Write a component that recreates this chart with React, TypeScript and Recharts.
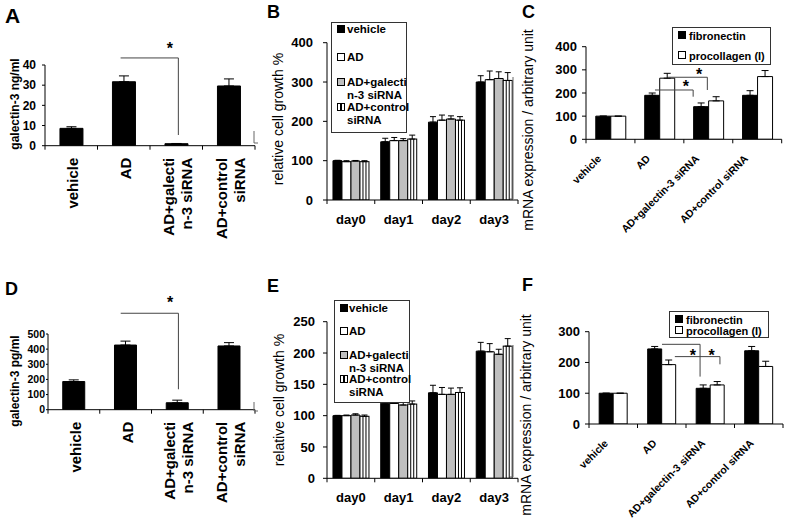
import React from 'react';
import { BarChart, Bar, XAxis, YAxis, ErrorBar, ReferenceLine, ReferenceDot, Legend } from 'recharts';

const FONT = '"Liberation Sans", Arial, Helvetica, sans-serif';

// ---------- categories ----------
const groupsAD = ['vehicle', 'AD', 'AD+galectin-3 siRNA', 'AD+control siRNA'];
const groupLinesAD = [['vehicle'], ['AD'], ['AD+galecti', 'n-3 siRNA'], ['AD+control', 'siRNA']];
const days = ['day0', 'day1', 'day2', 'day3'];
const growthSeries = ['vehicle', 'AD', 'AD+galectin-3 siRNA', 'AD+control siRNA'];
const growthLegendLines = [['vehicle'], ['AD'], ['AD+galecti', 'n-3 siRNA'], ['AD+control', 'siRNA']];
const mrnaSeries = ['fibronectin', 'procollagen (I)'];

// ---------- panel A ----------
const galectinNg = [8.6, 31.7, 1.0, 29.6];
const galectinNgErr = [0.8, 2.9, 0.1, 3.5];
const yTicksA = [0, 10, 20, 30, 40];
const bracketsA = [{ from: 1.44, to: 2.54, level: 43.5, drop: 5.3 }];
const starsA = [{ x: 2.38, y: 50 }];

// ---------- panel D ----------
const galectinPg = [186, 427, 46, 421];
const galectinPgErr = [11, 26, 17, 22];
const yTicksD = [0, 100, 200, 300, 400, 500];
const bracketsD = [{ from: 1.405, to: 2.52, level: 637, drop: 135 }];
const starsD = [{ x: 2.36, y: 731 }];

// ---------- panel B ----------
const growthBVehicle = [100, 148, 198, 300];
const growthBAD = [97.5, 151, 203, 306];
const growthBGal = [99, 151, 206, 309];
const growthBCtrl = [97.5, 155, 203, 304];
const growthBVehicleErr = [1, 9, 14, 16];
const growthBADErr = [2.5, 8, 13, 22];
const growthBGalErr = [1.5, 5, 8, 17];
const growthBCtrlErr = [2.5, 10, 9, 20];
const yTicksB = [0, 100, 200, 300, 400];

// ---------- panel E ----------
const growthEVehicle = [100, 120, 136.5, 203];
const growthEAD = [100, 119.5, 134, 202];
const growthEGal = [101, 117, 134, 198];
const growthECtrl = [99, 118.5, 137, 211];
const growthEVehicleErr = [0.5, 3, 12, 14];
const growthEADErr = [1, 2, 11, 13];
const growthEGalErr = [2, 5, 10, 8];
const growthECtrlErr = [2, 5, 7.5, 12];
const yTicksE = [0, 50, 100, 150, 200, 250];

// ---------- panel C ----------
const fibronectinC = [100, 190, 141, 190];
const procollagenC = [100, 264, 166, 271];
const fibronectinCErr = [0, 10, 16, 20];
const procollagenCErr = [0, 21, 18, 26];
const yTicksC = [0, 100, 200, 300, 400];
const bracketsC = [
  { from: 1.41, to: 2.19, level: 213, drop: 184 },
  { from: 1.68, to: 2.48, level: 268, drop: 213 },
];
const starsC = [{ x: 2.04, y: 242 }, { x: 2.31, y: 295 }];

// ---------- panel F ----------
const fibronectinF = [100, 244, 116, 238];
const procollagenF = [100, 193, 127, 187];
const fibronectinFErr = [0, 8, 11, 14];
const procollagenFErr = [0, 15, 11, 17];
const yTicksF = [0, 100, 200, 300];
const bracketsF = [
  { from: 1.505, to: 2.29, level: 259, drop: 154 },
  { from: 1.77, to: 2.7, level: 219, drop: 194 },
];
const starsF = [{ x: 2.14, y: 235 }, { x: 2.53, y: 235 }];

// category boundaries on the slot axis
const boundaryTicks = [0, 1, 2, 3, 4];

// ---------- helpers ----------
type Box = { left: number; top: number; width: number; height: number };
const YW = 40;
const AXH = 1;
function place(box: Box, x0: number, x1: number, yTop: number, yBot: number) {
  return {
    style: { position: 'absolute' as const, left: box.left, top: box.top },
    width: box.width,
    height: box.height,
    margin: {
      left: x0 - box.left - YW,
      right: box.left + box.width - x1,
      top: yTop - box.top,
      bottom: box.top + box.height - yBot - AXH,
    },
  };
}

const singleRows = (vals: number[], errs: number[]) =>
  groupsAD.map((g, i) => ({ group: g, slot: i + 0.5, value: vals[i], err: [0, errs[i]] }));

const multiRows = (cats: string[], vals: number[][], errs: number[][]) =>
  cats.map((c, i) => {
    const r: any = { cat: c, slot: i + 0.5 };
    vals.forEach((s, k) => {
      r['s' + k] = s[i];
      r['e' + k] = [0, errs[k][i]];
    });
    return r;
  });

const StripedBar = (p: any) => {
  const { x, y, width, height } = p;
  if (!height || height <= 0) return null;
  return (
    <g>
      <rect x={x} y={y} width={width} height={height} fill="#fff" stroke="#000" strokeWidth={1} />
      <line x1={x + width / 3} x2={x + width / 3} y1={y} y2={y + height} stroke="#000" strokeWidth={1} />
      <line x1={x + (2 * width) / 3} x2={x + (2 * width) / 3} y1={y} y2={y + height} stroke="#000" strokeWidth={1} />
    </g>
  );
};

const VerticalTick = (p: any) => {
  const { x, y, index } = p;
  const lines = groupLinesAD[index] || [];
  const n = lines.length;
  return (
    <g>
      {lines.map((t, j) => {
        const cx = x + 1.5 + (j - (n - 1) / 2) * 18;
        const ty = y + 12;
        return (
          <text key={j} x={cx} y={ty} transform={`rotate(-90 ${cx} ${ty})`} textAnchor="end"
            dominantBaseline="central" fontSize={15} fontWeight="bold" fontFamily={FONT} fill="#000">
            {t}
          </text>
        );
      })}
    </g>
  );
};

const DayTick = (p: any) => {
  const { x, y, payload } = p;
  return (
    <text x={x} y={y + 19} textAnchor="middle" dominantBaseline="central" fontSize={13}
      fontWeight="bold" fontFamily={FONT} fill="#000">
      {payload.value}
    </text>
  );
};

const makeSlantTick = (dx: number, dy: number) => (p: any) => {
  const { x, y, payload } = p;
  const tx = x + dx;
  const ty = y + dy;
  return (
    <text x={tx} y={ty} transform={`rotate(-45 ${tx} ${ty})`} textAnchor="end" fontSize={10.5}
      fontWeight="bold" fontFamily={FONT} fill="#000">
      {payload.value}
    </text>
  );
};

const starShape = (p: any) => (
  <text x={p.cx} y={p.cy + 9} textAnchor="middle" fontSize={16} fontWeight="bold" fontFamily={FONT} fill="#000">
    *
  </text>
);

// short downward tick mark at the bottom end of a vertical reference line
const TickMarkShape = (p: any) => {
  const yb = Math.max(Number(p.y1) || 0, Number(p.y2) || 0);
  return <line x1={p.x1} x2={p.x1} y1={yb} y2={yb + 4} stroke="#000" strokeWidth={1} />;
};

const xBaseline = () => [
  <ReferenceLine key="base" xAxisId="num" y={0} stroke="#000" strokeWidth={1} ifOverflow="visible" />,
  ...boundaryTicks.map((k) => (
    <ReferenceLine key={'t' + k} xAxisId="num" x={k} ifOverflow="visible" shape={TickMarkShape} />
  )),
];

const annotations = (brackets: { from: number; to: number; level: number; drop: number }[], stars: { x: number; y: number }[]) => [
  ...brackets.map((b, i) => (
    <ReferenceLine key={'h' + i} xAxisId="num" segment={[{ x: b.from, y: b.level }, { x: b.to, y: b.level }]}
      stroke="#444" strokeWidth={1} ifOverflow="visible" />
  )),
  ...brackets.map((b, i) => (
    <ReferenceLine key={'v' + i} xAxisId="num" segment={[{ x: b.to, y: b.level }, { x: b.to, y: b.drop }]}
      stroke="#444" strokeWidth={1} ifOverflow="visible" />
  )),
  ...stars.map((s, i) => (
    <ReferenceDot key={'s' + i} xAxisId="num" x={s.x} y={s.y} r={0} ifOverflow="visible" shape={starShape} />
  )),
];

// hidden numeric axis spanning the category slots (0..4), used for boundaries and brackets
const numAxis = (
  <XAxis xAxisId="num" dataKey="slot" type="number" domain={[0, 4]} allowDataOverflow hide />
);

const catAxis = (key: string, Tick: any) => (
  <XAxis xAxisId="cat" dataKey={key} height={AXH} axisLine={false} tickLine={false} tickSize={0}
    tickMargin={0} interval={0} tick={<Tick />} />
);

const yAxis = (ticks: number[], size: number, tickSize: number, tickMargin: number) => (
  <YAxis type="number" domain={[ticks[0], ticks[ticks.length - 1]]} ticks={ticks} interval={0} allowDataOverflow
    width={YW} tickSize={tickSize} tickMargin={tickMargin} axisLine={{ stroke: '#000' }} tickLine={{ stroke: '#000' }}
    tick={{ fontSize: size, fontWeight: 'bold', fill: '#000', fontFamily: FONT }} />
);

const growthFills = ['#000000', '#ffffff', '#bfbfbf', 'stripe'];
const mrnaFills = ['#000000', '#ffffff'];

const Marker = ({ fill, size }: { fill: string; size: number }) => (
  <div style={{ width: size, height: size, boxSizing: 'border-box', border: '1px solid #000',
    background: fill === 'stripe' ? 'linear-gradient(90deg,#fff 0,#fff 30%,#000 30%,#000 42%,#fff 42%,#fff 58%,#000 58%,#000 70%,#fff 70%)' : fill }} />
);

const GrowthLegend = ({ rows, markerLeft, textLeft }: { rows: number[]; markerLeft: number; textLeft: number }) => (
  <div style={{ position: 'relative', width: '100%', height: '100%', boxSizing: 'border-box', border: '1px solid #333',
    background: '#fff', fontFamily: FONT, fontWeight: 'bold', fontSize: 11.5, color: '#000' }}>
    {growthLegendLines.map((lines, i) => (
      <div key={i}>
        <div style={{ position: 'absolute', left: markerLeft, top: rows[i] - 5 }}>
          <Marker fill={growthFills[i]} size={8} />
        </div>
        <div style={{ position: 'absolute', left: textLeft, top: rows[i] - 7, lineHeight: '12.5px', whiteSpace: 'nowrap' }}
          title={growthSeries[i]}>
          {lines.map((l, j) => (<div key={j}>{l}</div>))}
        </div>
      </div>
    ))}
  </div>
);

const MrnaLegend = ({ rows, markerLeft, textLeft }: { rows: number[]; markerLeft: number; textLeft: number }) => (
  <div style={{ position: 'relative', width: '100%', height: '100%', boxSizing: 'border-box', border: '1px solid #333',
    background: '#fff', fontFamily: FONT, fontWeight: 'bold', fontSize: 11, color: '#000' }}>
    {mrnaSeries.map((name, i) => (
      <div key={i}>
        <div style={{ position: 'absolute', left: markerLeft, top: rows[i] - 5 }}>
          <Marker fill={mrnaFills[i]} size={8} />
        </div>
        <div style={{ position: 'absolute', left: textLeft, top: rows[i] - 6.5, lineHeight: '13px', whiteSpace: 'nowrap' }}>{name}</div>
      </div>
    ))}
  </div>
);

// ---------- panels ----------
function SinglePanel({ box, x0, x1, yTop, yBot, vals, errs, ticks, tickFont, tickSize, tickMargin, brackets, stars }: any) {
  const pl = place(box, x0, x1, yTop, yBot);
  return (
    <div style={pl.style}>
      <BarChart width={pl.width} height={pl.height} margin={pl.margin} data={singleRows(vals, errs)} barCategoryGap="28.5%" barGap={0}>
        {catAxis('group', VerticalTick)}
        {numAxis}
        {yAxis(ticks, tickFont, tickSize, tickMargin)}
        {xBaseline()}
        <Bar xAxisId="cat" dataKey="value" fill="#000" stroke="#000" strokeWidth={1} isAnimationActive={false}>
          <ErrorBar dataKey="err" width={5} stroke="#000" strokeWidth={1} direction="y" isAnimationActive={false} />
        </Bar>
        {annotations(brackets, stars)}
      </BarChart>
    </div>
  );
}

function GrowthPanel({ box, x0, x1, yTop, yBot, vals, errs, ticks, tickMargin, legendBox, rows, markerLeft, textLeft }: any) {
  const pl = place(box, x0, x1, yTop, yBot);
  return (
    <div style={pl.style}>
      <BarChart width={pl.width} height={pl.height} margin={pl.margin} data={multiRows(days, vals, errs)} barCategoryGap="12.5%" barGap={0}>
        {catAxis('cat', DayTick)}
        {numAxis}
        {yAxis(ticks, 13, 4, tickMargin)}
        {xBaseline()}
        {growthSeries.map((name, k) => (
          <Bar key={k} xAxisId="cat" dataKey={'s' + k} name={name}
            fill={growthFills[k] === 'stripe' ? '#fff' : growthFills[k]} stroke="#000" strokeWidth={1}
            shape={growthFills[k] === 'stripe' ? StripedBar : undefined} isAnimationActive={false}>
            <ErrorBar dataKey={'e' + k} width={3} stroke="#000" strokeWidth={1} direction="y" isAnimationActive={false} />
          </Bar>
        ))}
        <Legend layout="horizontal" verticalAlign="middle" align="center"
          wrapperStyle={{ left: legendBox.left, top: legendBox.top, width: legendBox.width, height: legendBox.height }}
          content={() => <GrowthLegend rows={rows} markerLeft={markerLeft} textLeft={textLeft} />} />
      </BarChart>
    </div>
  );
}

function MrnaPanel({ box, x0, x1, yTop, yBot, vals, errs, ticks, tickMargin, legendBox, rows, markerLeft, textLeft, gap, labelDx, brackets, stars }: any) {
  const pl = place(box, x0, x1, yTop, yBot);
  const Tick = makeSlantTick(labelDx, 20);
  return (
    <div style={pl.style}>
      <BarChart width={pl.width} height={pl.height} margin={pl.margin} data={multiRows(groupsAD, vals, errs)} barCategoryGap={gap} barGap={0}>
        {catAxis('cat', Tick)}
        {numAxis}
        {yAxis(ticks, 13, 4, tickMargin)}
        {xBaseline()}
        {mrnaSeries.map((name, k) => (
          <Bar key={k} xAxisId="cat" dataKey={'s' + k} name={name} fill={mrnaFills[k]} stroke="#000" strokeWidth={1}
            isAnimationActive={false}>
            <ErrorBar dataKey={'e' + k} width={3.5} stroke="#000" strokeWidth={1} direction="y" isAnimationActive={false} />
          </Bar>
        ))}
        {annotations(brackets, stars)}
        <Legend layout="horizontal" verticalAlign="middle" align="center"
          wrapperStyle={{ left: legendBox.left, top: legendBox.top, width: legendBox.width, height: legendBox.height }}
          content={() => <MrnaLegend rows={rows} markerLeft={markerLeft} textLeft={textLeft} />} />
      </BarChart>
    </div>
  );
}

const VText = ({ x, y, size, weight, children }: any) => (
  <text x={x} y={y} transform={`rotate(-90 ${x} ${y})`} textAnchor="middle" dominantBaseline="central"
    fontSize={size} fontWeight={weight} fontFamily={FONT} fill="#000">
    {children}
  </text>
);

export default function App() {
  return (
    <div style={{ position: 'absolute', left: 0, top: 0, width: 787, height: 523, background: '#fff', overflow: 'hidden' }}>
      <SinglePanel box={{ left: 5, top: 0, width: 257, height: 258 }} x0={45} x1={255} yTop={65} yBot={145.7}
        vals={galectinNg} errs={galectinNgErr} ticks={yTicksA} tickFont={12} tickSize={3} tickMargin={6}
        brackets={bracketsA} stars={starsA} />
      <SinglePanel box={{ left: 8, top: 262, width: 254, height: 261 }} x0={48} x1={255} yTop={334} yBot={409.7}
        vals={galectinPg} errs={galectinPgErr} ticks={yTicksD} tickFont={10.5} tickSize={2} tickMargin={1}
        brackets={bracketsD} stars={starsD} />
      <GrowthPanel box={{ left: 287, top: 0, width: 235, height: 258 }} x0={327} x1={518} yTop={42.7} yBot={200}
        vals={[growthBVehicle, growthBAD, growthBGal, growthBCtrl]}
        errs={[growthBVehicleErr, growthBADErr, growthBGalErr, growthBCtrlErr]}
        ticks={yTicksB} tickMargin={10} legendBox={{ left: 44, top: 22, width: 76, height: 111 }}
        rows={[7, 35, 60, 85]} markerLeft={5} textLeft={15} />
      <GrowthPanel box={{ left: 287, top: 262, width: 235, height: 261 }} x0={327} x1={518} yTop={321.7} yBot={478.3}
        vals={[growthEVehicle, growthEAD, growthEGal, growthECtrl]}
        errs={[growthEVehicleErr, growthEADErr, growthEGalErr, growthECtrlErr]}
        ticks={yTicksE} tickMargin={8} legendBox={{ left: 47, top: 38, width: 76, height: 103 }}
        rows={[8, 31, 55, 79]} markerLeft={5} textLeft={14} />
      <MrnaPanel box={{ left: 546, top: 0, width: 241, height: 258 }} x0={586} x1={781.7} yTop={46.7} yBot={139.3}
        vals={[fibronectinC, procollagenC]} errs={[fibronectinCErr, procollagenCErr]} ticks={yTicksC} tickMargin={5}
        legendBox={{ left: 126, top: 27, width: 99, height: 38 }} rows={[8, 28]} markerLeft={5} textLeft={16}
        gap="20%" labelDx={-8.5} brackets={bracketsC} stars={starsC} />
      <MrnaPanel box={{ left: 549, top: 262, width: 238, height: 261 }} x0={589} x1={783} yTop={331.7} yBot={424}
        vals={[fibronectinF, procollagenF]} errs={[fibronectinFErr, procollagenFErr]} ticks={yTicksF} tickMargin={5}
        legendBox={{ left: 120, top: 49, width: 100, height: 27 }} rows={[8, 19]} markerLeft={5} textLeft={16}
        gap="21%" labelDx={-4.5} brackets={bracketsF} stars={starsF} />

      <svg width={787} height={523} style={{ position: 'absolute', left: 0, top: 0, pointerEvents: 'none' }}>
        <g fontFamily={FONT} fontWeight="bold" fill="#000">
          <text x={5} y={23} fontSize={21}>A</text>
          <text x={267} y={18} fontSize={18}>B</text>
          <text x={522} y={18} fontSize={18}>C</text>
          <text x={5} y={295} fontSize={18}>D</text>
          <text x={267} y={292} fontSize={18}>E</text>
          <text x={522} y={291} fontSize={18}>F</text>
        </g>
        <VText x={15} y={104} size={12} weight="bold">galectin-3 ng/ml</VText>
        <VText x={15} y={381} size={12} weight="bold">galectin-3 pg/ml</VText>
        <VText x={278} y={119} size={14} weight="normal">relative cell growth %</VText>
        <VText x={279} y={400} size={14} weight="normal">relative cell growth %</VText>
        <VText x={528} y={130} size={14} weight="normal">mRNA expression / arbitrary unit</VText>
        <VText x={526} y={415} size={14} weight="normal">mRNA expression / arbitrary unit</VText>
        <g stroke="#666" strokeWidth={1} fill="none">
          <polyline points="254,131 254,143 258,143" />
          <polyline points="254,402 254,411 258,411" />
          <polyline points="513,77 513,199 510,199" />
          <polyline points="513,345 513,477 510,477" />
        </g>
      </svg>
    </div>
  );
}
